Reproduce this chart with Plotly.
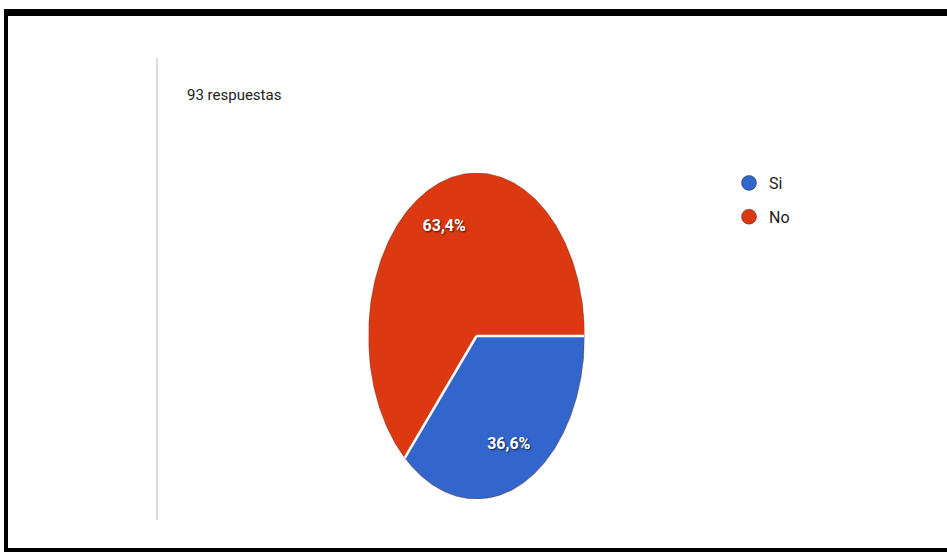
import numpy as np
import plotly.graph_objects as go

# Survey results: "93 respuestas"
labels = ["Si", "No"]
values = [34, 59]
colors = ["#3366cc", "#dc3912"]
title_text = "93 respuestas"

W, H = 947, 552
total = sum(values)
fracs = [v / total for v in values]

fig = go.Figure()

# Slices drawn clockwise from 3 o'clock on a unit circle; the axes domain
# gives the pie its tall oval shape.
start = 0.0
label_x, label_y, label_txt = [], [], []
bounds = []
for lab, frac, col in zip(labels, fracs, colors):
    t = np.linspace(start, start + frac, 240)
    theta = -2 * np.pi * t
    xs = np.concatenate([[0], np.cos(theta), [0]])
    ys = np.concatenate([[0], np.sin(theta), [0]])
    fig.add_trace(go.Scatter(
        x=xs, y=ys, mode="lines", fill="toself", fillcolor=col,
        line=dict(width=0.8, color="rgba(90,30,10,0.5)"),
        showlegend=False, hoverinfo="skip",
    ))
    mid = -2 * np.pi * (start + frac / 2)
    label_x.append(0.73 * np.cos(mid))
    label_y.append(0.73 * np.sin(mid))
    label_txt.append(f"{frac * 100:.1f}%".replace(".", ","))
    bounds.append(start)
    start += frac

# White separators between the slices
for b in bounds:
    ang = -2 * np.pi * b
    fig.add_trace(go.Scatter(
        x=[0, np.cos(ang)], y=[0, np.sin(ang)], mode="lines",
        line=dict(color="white", width=2.5),
        showlegend=False, hoverinfo="skip",
    ))

# Percentage labels inside slices
fig.add_trace(go.Scatter(
    x=label_x, y=label_y, mode="text", text=label_txt,
    textfont=dict(family="Roboto", size=16, color="white", weight="bold",
                  shadow="1px 1px 2px rgba(0,0,0,0.7)"),
    showlegend=False, hoverinfo="skip",
))

# Legend entries
for lab, col in zip(labels, colors):
    fig.add_trace(go.Scatter(
        x=[None], y=[None], mode="markers", name=lab, legendgroup=lab,
        marker=dict(size=15, color=col, line=dict(width=1, color="rgba(0,0,0,0.35)")),
    ))

# Pie bounding box in pixels
cx, cy, rx, ry = 476.5, 336, 108, 163
fig.update_xaxes(range=[-1, 1], visible=False, fixedrange=True,
                 domain=[(cx - rx) / W, (cx + rx) / W])
fig.update_yaxes(range=[-1, 1], visible=False, fixedrange=True,
                 domain=[(H - (cy + ry)) / H, (H - (cy - ry)) / H])

shapes = [
    # frame
    dict(type="rect", xref="paper", yref="paper", x0=4 / W, x1=1, y0=(H - 16) / H, y1=(H - 9) / H,
         fillcolor="black", line=dict(width=0), layer="above"),
    dict(type="rect", xref="paper", yref="paper", x0=4 / W, x1=8 / W, y0=0, y1=(H - 9) / H,
         fillcolor="black", line=dict(width=0), layer="above"),
    dict(type="rect", xref="paper", yref="paper", x0=4 / W, x1=1, y0=0, y1=4 / H,
         fillcolor="black", line=dict(width=0), layer="above"),
    # divider line on the left of the card
    dict(type="line", xref="paper", yref="paper", x0=157 / W, x1=157 / W,
         y0=(H - 520) / H, y1=(H - 58) / H, line=dict(color="#dcdcdc", width=2)),
]

fig.update_layout(
    width=W, height=H,
    margin=dict(l=0, r=0, t=0, b=0),
    paper_bgcolor="white", plot_bgcolor="white",
    shapes=shapes,
    annotations=[dict(
        text=title_text, xref="paper", yref="paper",
        x=185 / W, y=(H - 95) / H, xanchor="left", yanchor="middle",
        showarrow=False, font=dict(family="Roboto", size=15, color="#212121"),
    )],
    legend=dict(
        x=729 / W, y=(H - 166) / H, xanchor="left", yanchor="top",
        font=dict(family="Roboto", size=16, color="#212121"),
        bgcolor="rgba(0,0,0,0)", tracegroupgap=10, itemwidth=30,
    ),
    showlegend=True,
)

fig.write_html("out.html")
